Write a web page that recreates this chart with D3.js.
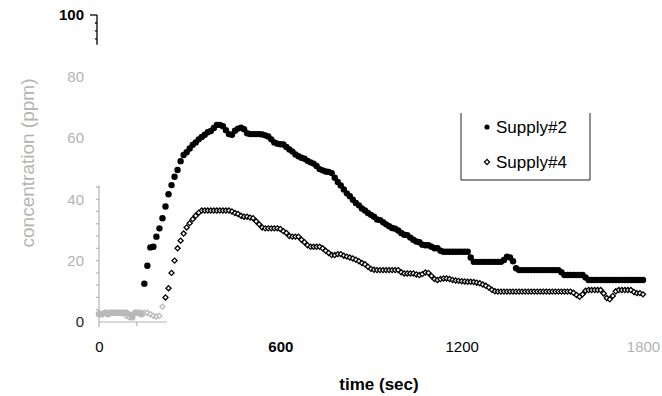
<!DOCTYPE html>
<html>
<head>
<meta charset="utf-8">
<script src="https://cdn.jsdelivr.net/npm/d3@7"></script>
<style>
  html, body { margin: 0; padding: 0; background: #fff; }
  svg { display: block; font-family: "Liberation Sans", Arial, sans-serif; }
</style>
</head>
<body>
<svg id="chart" width="662" height="396"></svg>
<script>
// ---- data (sampled every 10 s, 0..1800 s) ----
const sampleTimes = d3.range(0, 1801, 10);
const seriesNames = ["Supply#2", "Supply#4"];
const supply2 = [
  2.5, 2.5, 3, 2.5, 3, 3, 3, 3, 3, 3, 2.5, 1.5, 3, 3, 2.5,
  12.5, 18.3, 24.3, 24.5, 27.8, 30.5, 33.8, 37.6, 41.6, 44.6, 47.3, 49.5, 52.4, 54.4, 55.3,
  56.5, 57.7, 58.5, 59.5, 60.3, 61, 61.8, 62.2, 63.2, 64.2, 64.2, 63.8, 62.5, 61.2, 61,
  62.3, 63, 63.3, 62.8, 61.5, 61.2, 61.2, 61.2, 61.2, 61.1, 60.8, 60.4, 59.5, 58.5, 58.1,
  57.9, 57.8, 57, 56.2, 55.5, 54.6, 54, 53.5, 53.2, 52.5, 52, 51.6, 50.8, 49.8, 49.4,
  49, 48.9, 48.5, 47, 45.6, 44.5, 43.2, 41.9, 41, 39.8, 38.8, 38, 37, 36.3, 35.5,
  34.9, 34.3, 33.4, 33.2, 32.5, 31.8, 31.2, 30.6, 30.4, 29.8, 29, 28.4, 28.3, 27.5, 26.8,
  26.2, 26, 25.2, 25, 25, 24.5, 24, 24, 23.2, 22.9, 22.9, 22.9, 22.9, 22.9, 22.9,
  22.9, 22.9, 22.9, 21, 19.6, 19.6, 19.6, 19.6, 19.6, 19.6, 19.6, 19.6, 19.6, 19.6, 20.2,
  21.3, 21, 19.8, 17.5, 16.9, 16.9, 16.9, 16.9, 16.9, 16.9, 16.9, 16.9, 16.9, 16.9, 16.9,
  16.9, 16.9, 16.9, 16.2, 15.3, 15.3, 15.3, 15.3, 15.3, 15.3, 15.3, 14.5, 13.7, 13.7, 13.7,
  13.7, 13.7, 13.7, 13.7, 13.7, 13.7, 13.7, 13.7, 13.7, 13.7, 13.7, 13.7, 13.7, 13.7, 13.7,
  13.7
];
const supply4 = [
  3, 2.5, 3, 3, 3, 3, 3, 3, 3, 2, 1.5, 2, 3, 3, 3,
  3, 3, 2.5, 2, 1.8, 2, 5, 8, 11, 16, 20, 24, 26.5, 28.8, 30.8,
  32.2, 33.5, 34.6, 35.6, 36.3, 36.3, 36.3, 36.3, 36.3, 36.3, 36.3, 36.3, 36.3, 36.3, 36,
  35.5, 35.2, 34.6, 34.3, 34.3, 34, 33.8, 32.8, 31.8, 30.8, 30.5, 30.5, 30.5, 30.5, 30.5,
  30.3, 29.6, 29, 28, 27.8, 27.8, 27.8, 26.8, 26, 25, 24.5, 24.5, 24.5, 24.5, 24,
  23.2, 22.5, 21.8, 21.8, 22.1, 22.1, 21.6, 21.3, 21, 20.7, 20.3, 19.8, 19.2, 18.8, 18,
  17.3, 17, 16.9, 16.9, 16.9, 16.9, 16.9, 16.9, 16.9, 16.9, 16.2, 15.8, 15.8, 15.8, 15.8,
  15.5, 15.3, 15.6, 16.1, 16, 15, 14, 13.7, 14, 14.2, 14.2, 14, 13.7, 13.5, 13.4,
  13.3, 13.2, 13.1, 13.1, 13, 12.8, 12.6, 12.2, 11.8, 11.2, 10.5, 10, 9.9, 9.9, 9.9,
  9.9, 9.9, 9.9, 9.9, 9.9, 9.9, 9.9, 9.9, 9.9, 9.9, 9.9, 9.9, 9.9, 9.9, 9.9,
  9.9, 9.9, 9.9, 9.9, 9.9, 9.9, 9.9, 9.5, 8.8, 8.2, 9, 10.2, 10.4, 10.4, 10.4,
  10.4, 10.4, 9.3, 7.8, 7.4, 8.5, 10, 10.4, 10.4, 10.4, 10.4, 10.4, 9.8, 9.4, 9.4,
  9
];
const yTickValues = [0, 20, 40, 60, 80, 100];
const xTickValues = [0, 600, 1200, 1800];

// ---- layout ----
const svg = d3.select("#chart");
const x = d3.scaleLinear().domain([0, 1800]).range([99, 643]);
const y = d3.scaleLinear().domain([0, 100]).range([322, 15]);
const GREY = "#b3b3b3";
const FADE = "#b8b8b8";

// y tick labels via axis
const yAxis = svg.append("g")
  .attr("transform", "translate(84,0)")
  .call(d3.axisLeft(y).tickValues(yTickValues).tickFormat(d3.format("d")).tickSize(0).tickPadding(0));
yAxis.select(".domain").remove();
yAxis.selectAll("text")
  .attr("font-family", "Liberation Sans, Arial, sans-serif")
  .attr("font-size", 15)
  .attr("fill", d => d === 100 ? "#000" : (d === 0 ? "#222" : GREY))
  .attr("font-weight", d => d === 100 ? "bold" : "normal");

// x tick labels via axis
const xAxis = svg.append("g")
  .attr("transform", "translate(0,322)")
  .call(d3.axisBottom(x).tickValues(xTickValues).tickFormat(d3.format("d")).tickSize(0).tickPadding(19));
xAxis.select(".domain").remove();
xAxis.selectAll("text")
  .attr("font-family", "Liberation Sans, Arial, sans-serif")
  .attr("font-size", 15)
  .attr("fill", d => d === 1800 ? GREY : "#000")
  .attr("font-weight", d => d === 600 ? "bold" : "normal");

// partial grey y axis line with minor ticks
const ax = svg.append("g").attr("stroke", GREY).attr("stroke-width", 1.2).attr("fill", "none");
ax.append("line").attr("x1", x(0)).attr("x2", x(0)).attr("y1", y(44.5)).attr("y2", y(0) + 5);
ax.selectAll("line.minor").data(d3.range(4, 45, 4)).enter().append("line")
  .attr("x1", x(0) - 3).attr("x2", x(0)).attr("y1", d => y(d)).attr("y2", d => y(d));
// partial grey x axis line
ax.append("line").attr("x1", x(0)).attr("x2", x(225)).attr("y1", y(0)).attr("y2", y(0));
ax.append("line").attr("x1", x(125)).attr("x2", x(125)).attr("y1", y(0)).attr("y2", y(0) + 4);

// top black bracket near 100
const topBracket = svg.append("g").attr("stroke", "#000").attr("stroke-width", 1.3).attr("fill", "none");
topBracket.append("line").attr("x1", 97).attr("x2", 97).attr("y1", y(100)).attr("y2", y(90.3));
topBracket.append("line").attr("x1", 90).attr("x2", 97).attr("y1", y(100)).attr("y2", y(100));
topBracket.selectAll("line.mt").data([97.4, 94.8, 92.2]).enter().append("line")
  .attr("x1", 95).attr("x2", 97).attr("y1", d => y(d)).attr("y2", d => y(d));

// axis titles
svg.append("text")
  .attr("transform", `translate(34,163) rotate(-90)`)
  .attr("text-anchor", "middle")
  .attr("font-size", 19)
  .attr("fill", GREY)
  .text("concentration (ppm)");
svg.append("text")
  .attr("x", 379).attr("y", 390)
  .attr("text-anchor", "middle")
  .attr("font-size", 17)
  .attr("font-weight", "bold")
  .attr("fill", "#000")
  .text("time (sec)");

// data points
const pts2 = sampleTimes.map((t, i) => ({ t, v: supply2[i] }));
const pts4 = sampleTimes.map((t, i) => ({ t, v: supply4[i] }));
const faded = d => d.v < 6 && d.t < 300;
const diamond = d3.symbol().type(d3.symbolSquare).size(13);

svg.append("g").selectAll("path").data(pts4).enter().append("path")
  .attr("d", diamond)
  .attr("transform", d => `translate(${x(d.t)},${y(d.v)}) rotate(45)`)
  .attr("fill", "#fff")
  .attr("stroke", d => faded(d) ? FADE : "#000")
  .attr("stroke-width", 1.3);

svg.append("g").selectAll("circle").data(pts2).enter().append("circle")
  .attr("cx", d => x(d.t)).attr("cy", d => y(d.v))
  .attr("r", 3.2)
  .attr("fill", d => faded(d) ? FADE : "#000");

// legend (left, right, bottom borders only)
const lg = svg.append("g");
lg.append("path")
  .attr("d", "M461,113 L461,180 L590,180 L590,113")
  .attr("fill", "none").attr("stroke", "#222").attr("stroke-width", 1);
lg.append("circle").attr("cx", 487).attr("cy", 127).attr("r", 2.6).attr("fill", "#000");
lg.append("path").attr("d", diamond)
  .attr("transform", "translate(487,162) rotate(45)")
  .attr("fill", "#fff").attr("stroke", "#000").attr("stroke-width", 1.2);
lg.selectAll("text").data(seriesNames).enter().append("text")
  .attr("x", 496).attr("y", (d, i) => 133 + i * 35)
  .attr("font-size", 17).attr("fill", "#000")
  .text(d => d);
</script>
</body>
</html>
